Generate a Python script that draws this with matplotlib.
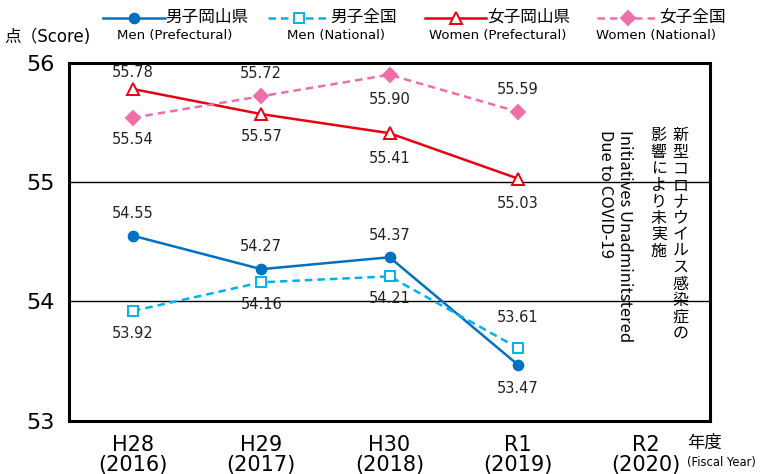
import matplotlib
matplotlib.use('Agg')
import matplotlib.pyplot as plt
from matplotlib.lines import Line2D

plt.rcParams['font.family'] = ['DejaVu Sans', 'Noto Sans CJK JP']
JP = ['Noto Sans CJK JP', 'DejaVu Sans']

years_jp = ['H28', 'H29', 'H30', 'R1', 'R2']
years_en = ['(2016)', '(2017)', '(2018)', '(2019)', '(2020)']

men_pref = [54.55, 54.27, 54.37, 53.47]
men_nat = [53.92, 54.16, 54.21, 53.61]
women_pref = [55.78, 55.57, 55.41, 55.03]
women_nat = [55.54, 55.72, 55.90, 55.59]

# label offsets from the point, in points (+ above, - below)
men_pref_off = [16, 16, 16, -17]
men_nat_off = [-16, -16, -16, 22]
women_pref_off = [12, -16, -18, -18]
women_nat_off = [-16, 16, -18, 16]

series = [
    ('男子岡山県', 'Men (Prefectural)', men_pref, men_pref_off,
     dict(color='#0070C0', ls='-', marker='o', mfc='#0070C0', mec='#0070C0', ms=7)),
    ('男子全国', 'Men (National)', men_nat, men_nat_off,
     dict(color='#00B0F0', ls=(0, (3, 2)), marker='s', mfc='white', mec='#00B0F0', ms=6.5)),
    ('女子岡山県', 'Women (Prefectural)', women_pref, women_pref_off,
     dict(color='#E60012', ls='-', marker='^', mfc='white', mec='#E60012', ms=8)),
    ('女子全国', 'Women (National)', women_nat, women_nat_off,
     dict(color='#EE6FA8', ls=(0, (3, 2)), marker='D', mfc='#EE6FA8', mec='#EE6FA8', ms=7)),
]

fig = plt.figure(figsize=(7.66, 4.74), dpi=100)
ax = fig.add_axes([0.090, 0.1125, 0.837, 0.755])

x = list(range(len(men_pref)))
for jp, en, vals, offs, st in series:
    ax.plot(x, vals, lw=1.8, zorder=3, mew=1.4, **st)
    for xi, v, off in zip(x, vals, offs):
        ax.annotate(f'{v:.2f}', (xi, v), xytext=(0, off), textcoords='offset points',
                    ha='center', va='center', fontsize=10.5, color='#222222')

ax.set_xlim(-0.5, len(years_jp) - 0.5)
ax.set_ylim(53, 56)
ax.set_yticks([53, 54, 55, 56])
ax.set_yticklabels(['53', '54', '55', '56'], fontsize=16)
ax.set_xticks(range(len(years_jp)))
ax.set_xticklabels([f'{a}\n{b}' for a, b in zip(years_jp, years_en)], fontsize=15,
                   linespacing=1.05)
ax.tick_params(length=0, pad=10)
ax.tick_params(axis='x', pad=10)
for s in ax.spines.values():
    s.set_linewidth(2.2)
    s.set_color('black')
for yv in [54, 55]:
    ax.axhline(yv, color='black', lw=1.0, zorder=1)

# note about 2020
ax.text(4.27, 55.46, '\n'.join('新型コロナウイルス感染症の'), ha='center', va='top',
        fontsize=11.5, linespacing=0.96, family=JP)
ax.text(4.10, 55.46, '\n'.join('影響により未実施'), ha='center', va='top',
        fontsize=11.5, linespacing=0.96, family=JP)
ax.text(3.90, 55.44, 'Initiatives Unadminitstered\nDue to COVID-19', rotation=-90,
        ha='left', va='top', fontsize=12, linespacing=1.15,
        rotation_mode='anchor', family=JP)

# legend drawn by hand at the top
leg_x = [0.135, 0.350, 0.555, 0.780]
leg_en_x = [0.228, 0.439, 0.650, 0.857]
for lx, ex, (jp, en, vals, offs, st) in zip(leg_x, leg_en_x, series):
    fig.add_artist(Line2D([lx, lx + 0.08], [0.963, 0.963], transform=fig.transFigure,
                          lw=1.8, **{**st, 'marker': None}))
    fig.add_artist(Line2D([lx + 0.04], [0.963], transform=fig.transFigure,
                          ls='none', marker=st['marker'], mfc=st['mfc'],
                          mec=st['mec'], ms=st['ms'], mew=1.4))
    fig.text(lx + 0.081, 0.963, jp, ha='left', va='center', fontsize=12, family=JP)
    fig.text(ex, 0.925, en, ha='center', va='center', fontsize=9.5)

fig.text(0.006, 0.921, '点（Score)', ha='left', va='center', fontsize=12)
fig.text(0.897, 0.066, '年度', ha='left', va='center', fontsize=12.5, family=JP)
fig.text(0.897, 0.024, '(Fiscal Year)', ha='left', va='center', fontsize=8.3)

fig.savefig('out.png', dpi=100)
